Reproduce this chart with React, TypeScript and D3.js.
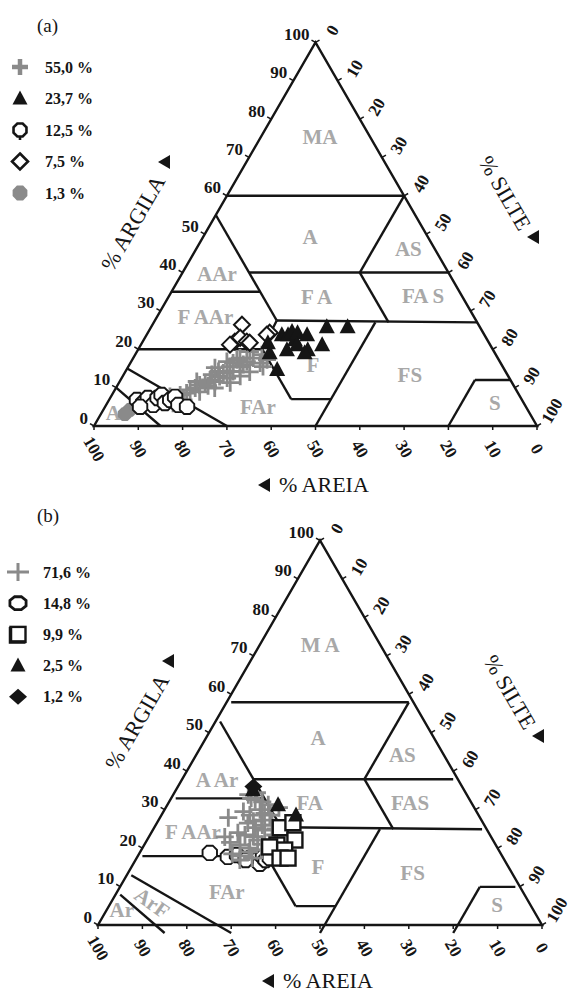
import React from "react";
import * as d3 from "d3";

const FONT = "'Liberation Serif','Times New Roman',Times,serif";
const GRAY_MARK = "#8a8a8a";
const GRAY_TEXT = "#a8a8a8";
const INK = "#151515";

type Pt = [number, number]; // [clay %, silt %]

const tickValues = d3.range(0, 101, 10);

// Texture class boundaries, as [clay, silt] end points
const boundaries: [Pt, Pt][] = [
  [[60, 0], [60, 40]],
  [[55, 0], [27.5, 27.5]],
  [[40, 15], [40, 60]],
  [[60, 40], [40, 40]],
  [[35, 0], [35, 20]],
  [[27.5, 27.5], [27, 73]],
  [[40, 40], [27, 53]],
  [[27.5, 27.5], [20, 28]],
  [[20, 0], [20, 28]],
  [[20, 28], [7, 41]],
  [[7, 41], [7, 50]],
  [[27, 50], [0, 50]],
  [[15, 0], [0, 30]],
  [[10, 0], [0, 15]],
  [[12, 80], [12, 88]],
  [[12, 80], [0, 80]],
];

// ---------- Panel (a) data ----------
const crossA: Pt[] = [
  [7.7, 13.3], [8.1, 15.4], [5.9, 14.9], [6.8, 16.8], [9.4, 17], [9.9, 17.9],
  [10.7, 18.5], [11.2, 19.5], [12, 20.2], [11.6, 21.5], [12.9, 21.9], [13.8, 22.3],
  [12.5, 23.8], [15.5, 22.9], [16.4, 23.2], [17.3, 23.6], [17.7, 24.1], [16, 25.7],
  [16.8, 26.1], [17.7, 27.1], [16.4, 29.3], [15.5, 30.4], [17.3, 30.4], [16.8, 21.6],
  [14.2, 21], [13.4, 19.9], [14.2, 24.3], [15.5, 25.2], [11.6, 17.4], [8.6, 16.6],
  [8.9, 19.4], [9.9, 22.3], [11.3, 25.1], [14.1, 28.1], [15.2, 19.7], [19.4, 25.5],
  [18.6, 28.6], [13, 26.5], [10.5, 20.5],
];
const triA: Pt[] = [
  [21.7, 28.4], [19.1, 30.1], [14.7, 34], [23.8, 30.5], [23.8, 31.9], [24.6, 32.4],
  [22.5, 34.1], [24.3, 33.8], [23.8, 36.2], [19.9, 38.3], [19.1, 38], [19.9, 33.6],
  [21.2, 40.9], [25.9, 39.6], [25.9, 44.3], [21.2, 35.2],
];
const octA: Pt[] = [
  [6.8, 6.3], [6, 8.1], [7.3, 8.5], [5.5, 10.6], [7.3, 10.7], [8.1, 11.2],
  [6, 13], [6.8, 13.8], [7.6, 14.5], [5.5, 16.3], [5, 7.9], [5, 18.5],
];
const diaA: Pt[] = [
  [26.4, 20.2], [22, 20.8], [23, 21.5], [22, 23.5], [21.7, 24.3], [21.2, 20.1],
  [24.3, 27.5], [23.8, 27.1],
];
const gOctA: Pt[] = [[4.2, 6], [3.1, 5.4]];

const legendA = [
  { type: "cross", label: "55,0 %" },
  { type: "tri", label: "23,7 %" },
  { type: "oct", label: "12,5 %" },
  { type: "dia", label: "7,5 %" },
  { type: "goct", label: "1,3 %" },
];

const classLabelsA = [
  { name: "MA", clay: 75.4, silt: 13.3 },
  { name: "A", clay: 49.2, silt: 24.2 },
  { name: "AS", clay: 46.1, silt: 47.9 },
  { name: "AAr", clay: 39.5, silt: 8 },
  { name: "F A", clay: 33.5, silt: 33.5 },
  { name: "FA S", clay: 33.8, silt: 57.4 },
  { name: "F AAr", clay: 28.3, silt: 11 },
  { name: "F", clay: 16, silt: 41.4 },
  { name: "FAr", clay: 5, silt: 34.5 },
  { name: "FS", clay: 13.4, silt: 64.6 },
  { name: "S", clay: 6, silt: 87.5 },
  { name: "Ar", clay: 3.4, silt: 3.7 },
];

// ---------- Panel (b) data ----------
const crossB: Pt[] = [
  [32.6, 19.1], [30, 21.5], [28.6, 19.9], [27.3, 23.2], [25.3, 22.8], [24.7, 25.2],
  [23.4, 21.4], [22.1, 24.9], [20, 24.2], [19.5, 27.1], [16.9, 23.5], [31.3, 22.7],
  [28.6, 24.4], [26, 26.2], [27.9, 15.4], [22.9, 17.1], [33.9, 16.9], [34.4, 18.6],
  [20.8, 21.6], [17.4, 26], [23.4, 28.2], [29.5, 18], [26.5, 20.5], [24, 19.5],
  [21.5, 19], [18.5, 21], [30.5, 25.5], [25, 27.5], [21, 26.5], [32, 21], [29, 23],
  [27, 21.5], [23, 23.5], [19, 24.5], [33, 18], [26, 24], [18, 23],
];
const octB: Pt[] = [
  [18.75, 15.8], [17.7, 20.4], [18.2, 22.2], [17.4, 25.5], [16.9, 27.3], [15.9, 28.5],
  [17.7, 28.3], [16.9, 29.3], [17.4, 30], [16.9, 24.8],
];
const sqB: Pt[] = [
  [25.3, 28.4], [22.1, 33.3], [20.8, 29.9], [20.3, 28.5], [19.5, 32.3], [17.4, 32.3],
  [17.4, 34.1], [26.6, 30.6],
];
const triB: Pt[] = [[35.2, 17.3], [31.3, 24.9], [28.6, 30.3]];
const fdiaB: Pt[] = [[36, 17]];

const legendB = [
  { type: "cross2", label: "71,6 %" },
  { type: "oct2", label: "14,8 %" },
  { type: "sq", label: "9,9 %" },
  { type: "tri", label: "2,5 %" },
  { type: "fdia", label: "1,2 %" },
];

const classLabelsB = [
  { name: "M A", clay: 72.7, silt: 13.7 },
  { name: "A", clay: 48.7, silt: 25.2 },
  { name: "AS", clay: 44.3, silt: 46.4 },
  { name: "A Ar", clay: 37.8, silt: 7.9 },
  { name: "FA", clay: 31.8, silt: 31.8 },
  { name: "FAS", clay: 31.8, silt: 54.4 },
  { name: "F AAr", clay: 24.2, silt: 9.3 },
  { name: "F", clay: 15.1, silt: 42 },
  { name: "FAr", clay: 8.6, silt: 24.7 },
  { name: "FS", clay: 13.5, silt: 64.1 },
  { name: "S", clay: 5.2, silt: 87.3 },
  { name: "Ar", clay: 3.9, silt: 3.4 },
  { name: "ArF", clay: 5.7, silt: 9.3, rot: 35 },
];

function octPath(r: number, sx = 1) {
  const pts = d3.range(8).map((i) => {
    const a = ((i * 45 + 22.5) * Math.PI) / 180;
    return [Math.cos(a) * r * sx, Math.sin(a) * r];
  });
  return "M" + pts.map((p) => p[0].toFixed(2) + "," + p[1].toFixed(2)).join("L") + "Z";
}

function Marker({ type, x, y, legend = false }: { type: string; x: number; y: number; legend?: boolean }) {
  const t = `translate(${x},${y})`;
  switch (type) {
    case "cross":
      return (
        <path transform={t} d={legend ? "M-8,0H8M0,-8V8" : "M-9,0H9M0,-9V9"} stroke={GRAY_MARK}
          strokeWidth={legend ? 4.5 : 2.8} fill="none" />
      );
    case "cross2":
      return <path transform={t} d="M-11,0H11M0,-9V9" stroke={GRAY_MARK} strokeWidth={3} fill="none" />;
    case "tri":
      return <path transform={t} d={legend ? "M0,-8L7.5,6L-7.5,6Z" : "M0,-8.5L8,6.5L-8,6.5Z"} fill={INK} />;
    case "oct":
      return (
        <g transform={t}>
          <path d={octPath(legend ? 7 : 7.8)} fill="white" stroke={INK} strokeWidth={legend ? 2.6 : 1.9} />
          {legend && <path d="M0,7V10" stroke={INK} strokeWidth={2.6} />}
        </g>
      );
    case "oct2":
      return <path transform={t} d={octPath(7, 1.25)} fill="white" stroke={INK} strokeWidth={2.8} />;
    case "dia":
      return <path transform={t} d="M0,-8L8,0L0,8L-8,0Z" fill="white" stroke={INK} strokeWidth={legend ? 2.6 : 2} />;
    case "goct":
      return <path transform={t} d={octPath(legend ? 8 : 7.5)} fill={GRAY_MARK} />;
    case "sq":
      return (
        <g transform={t}>
          <rect x={-7.5} y={-7.5} width={15} height={15} fill="white" stroke={INK} strokeWidth={2.4} />
          {legend && <path d="M-7.5,-7.5V7.5H7.5" stroke={INK} strokeWidth={3.5} fill="none" />}
        </g>
      );
    case "fdia":
      return <path transform={t} d="M0,-8L9,0L0,8L-9,0Z" fill={INK} />;
    default:
      return null;
  }
}

type Series = { type: string; pts: Pt[] };

function Panel(props: {
  L: number; by: number; W: number; lineDy: number; tag: string; tagY: number; titleDy: number;
  legend: { type: string; label: string }[]; legendX: number; legendTextX: number; legendY0: number; legendStep: number;
  series: Series[]; labels: { name: string; clay: number; silt: number; rot?: number }[];
}) {
  const { L, by, W, lineDy } = props;
  const H = (W * Math.sqrt(3)) / 2;
  const xs = d3.scaleLinear().domain([0, 100]).range([L, L + W]);
  const ys = d3.scaleLinear().domain([0, 100]).range([by, by - H]);
  const P = (clay: number, silt: number): [number, number] => [xs(silt + clay / 2), ys(clay)];
  const R = L + W;
  const apex = P(100, 0);
  const line = d3.line();

  return (
    <g>
      <text x={37} y={props.tagY} fontFamily={FONT} fontSize={19} fill={INK}>{props.tag}</text>

      {props.legend.map((d, i) => {
        const y = props.legendY0 + i * props.legendStep;
        return (
          <g key={i}>
            <Marker type={d.type} x={props.legendX} y={y} legend />
            <text x={props.legendTextX} y={y} dominantBaseline="central" fontFamily={FONT} fontWeight="bold" fontSize={16} fill={INK}>{d.label}</text>
          </g>
        );
      })}

      {props.labels.map((d, i) => {
        const [x, y] = P(d.clay, d.silt);
        return (
          <text key={i} x={x} y={y} textAnchor="middle" dominantBaseline="central" fontFamily={FONT}
            fontWeight="bold" fontSize={21} fill={GRAY_TEXT}
            transform={d.rot ? `rotate(${d.rot},${x},${y})` : undefined}>{d.name}</text>
        );
      })}

      <g transform={`translate(0,${lineDy})`}>
        {boundaries.map((b, i) => (
          <path key={i} d={line([P(b[0][0], b[0][1]), P(b[1][0], b[1][1])]) || ""} stroke={INK} strokeWidth={2.4} fill="none" />
        ))}
      </g>

      <path d={line([[L, by], [R, by], apex]) + "Z"} stroke={INK} strokeWidth={2.4} fill="none" strokeLinejoin="miter" />

      {tickValues.map((v) => {
        const [lx, ly] = P(v, 0);
        const [rx, ry] = P(100 - v, v);
        const bx = xs(100 - v);
        const rcx = rx + 17 + (v === 100 ? -2 : 0);
        const rcy = ry - 12 + (v === 100 ? -3 : 0);
        return (
          <g key={v}>
            <path d={`M${lx},${ly}l-4,-2.3`} stroke={INK} strokeWidth={1.5} />
            <path d={`M${rx},${ry}l4,-2.3`} stroke={INK} strokeWidth={1.5} />
            <path d={`M${bx},${by}v4`} stroke={INK} strokeWidth={1.5} />
            <text x={lx - 6} y={ly - 8} textAnchor="end" dominantBaseline="central" fontFamily={FONT} fontWeight="bold" fontSize={17} fill={INK}>{v}</text>
            <text x={rcx} y={rcy} textAnchor="middle" dominantBaseline="central" fontFamily={FONT} fontWeight="bold" fontSize={17} fill={INK}
              transform={`rotate(-60,${rcx},${rcy})`}>{v}</text>
            <text x={bx} y={by + 23} textAnchor="middle" dominantBaseline="central" fontFamily={FONT} fontWeight="bold" fontSize={17} fill={INK}
              transform={`rotate(60,${bx},${by + 23})`}>{v}</text>
          </g>
        );
      })}

      <text x={L + 39} y={by - 203} textAnchor="middle" dominantBaseline="central" fontFamily={FONT} fontSize={22} fill={INK}
        transform={`rotate(-60,${L + 39},${by - 203})`}>% ARGILA</text>
      <path transform={`translate(${L + 70},${by - 264})`} d="M-6,0L6,-7L6,7Z" fill={INK} />

      <text x={R - 32} y={by - 233} textAnchor="middle" dominantBaseline="central" fontFamily={FONT} fontSize={22} fill={INK}
        transform={`rotate(60,${R - 32},${by - 233})`}>% SILTE</text>
      <path transform={`translate(${R - 4},${by - 189})`} d="M-6,0L6,-7L6,7Z" fill={INK} />

      <path transform={`translate(${L + 170},${by + props.titleDy - 7})`} d="M-6,0L6,-7L6,7Z" fill={INK} />
      <text x={L + 185} y={by + props.titleDy} fontFamily={FONT} fontSize={22} fill={INK}>% AREIA</text>

      {props.series.map((s, si) => (
        <g key={si}>
          {s.pts.map((p, i) => {
            const [x, y] = P(p[0], p[1]);
            return <Marker key={i} type={s.type} x={x} y={y} />;
          })}
        </g>
      ))}
    </g>
  );
}

export default function App() {
  return (
    <svg width={573} height={995} style={{ position: "absolute", left: 0, top: 0, background: "white" }}>
      <rect width={573} height={995} fill="white" />
      <Panel L={94} by={426} W={443} lineDy={0} tag="(a)" tagY={32} titleDy={66}
        legend={legendA} legendX={20} legendTextX={45} legendY0={67} legendStep={31.5}
        labels={classLabelsA}
        series={[
          { type: "cross", pts: crossA },
          { type: "goct", pts: gOctA },
          { type: "oct", pts: octA },
          { type: "dia", pts: diaA },
          { type: "tri", pts: triA },
        ]} />
      <Panel L={98} by={925} W={444} lineDy={8} tag="(b)" tagY={522} titleDy={63}
        legend={legendB} legendX={18} legendTextX={43} legendY0={572} legendStep={31.2}
        labels={classLabelsB}
        series={[
          { type: "oct", pts: octB },
          { type: "cross", pts: crossB },
          { type: "sq", pts: sqB },
          { type: "tri", pts: triB },
          { type: "fdia", pts: fdiaB },
        ]} />
    </svg>
  );
}
